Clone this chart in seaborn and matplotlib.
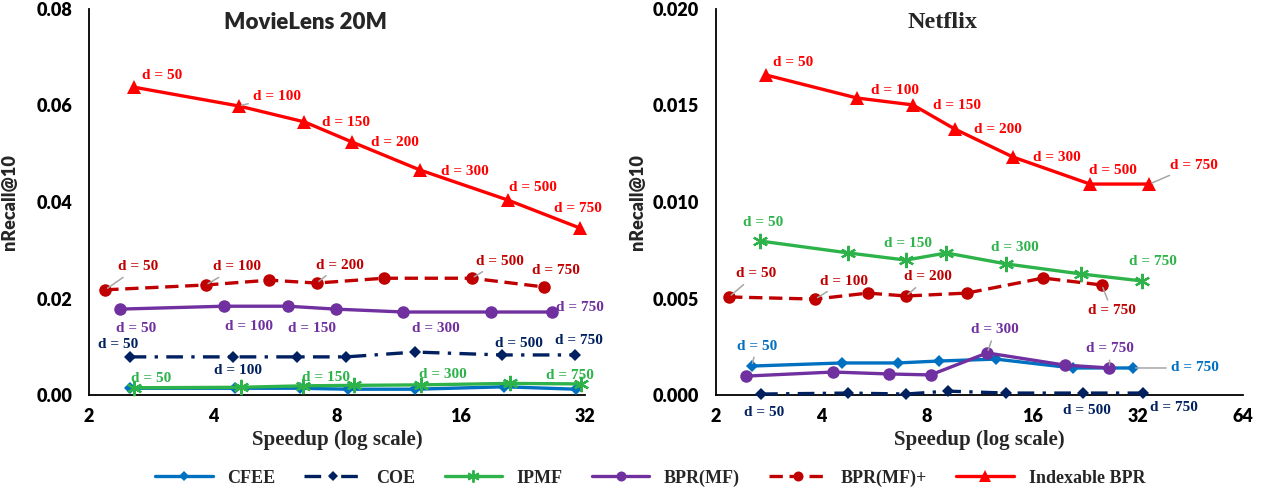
import numpy as np
import pandas as pd
import matplotlib
matplotlib.use("Agg")
import matplotlib.pyplot as plt
from matplotlib.ticker import FormatStrFormatter, FixedLocator, NullLocator
from matplotlib.lines import Line2D
import seaborn as sns

# ---- data ----
methods = ["CFEE", "COE", "IPMF", "BPR(MF)", "BPR(MF)+", "Indexable BPR"]

# MovieLens 20M: speedup (x) and nRecall@10 (y) per method
ml_speedup = {
    "CFEE":          [2.51, 4.52, 6.5, 8.5, 12.4, 20.4, 30.4],
    "COE":           [2.51, 4.48, 6.4, 8.42, 12.4, 20.1, 30.2],
    "IPMF":          [2.57, 4.67, 6.6, 8.8, 12.8, 21.0, 31.3],
    "BPR(MF)":       [2.38, 4.25, 6.08, 7.94, 11.6, 18.9, 26.6],
    "BPR(MF)+":      [2.19, 3.84, 5.48, 7.14, 10.4, 17.0, 25.4],
    "Indexable BPR": [2.57, 4.62, 6.67, 8.72, 12.75, 20.8, 31.1],
}
ml_recall = {
    "CFEE":          [0.0014, 0.0014, 0.0014, 0.0012, 0.0012, 0.0017, 0.0012],
    "COE":           [0.0079, 0.0079, 0.0079, 0.0079, 0.0089, 0.0083, 0.0083],
    "IPMF":          [0.0015, 0.0016, 0.0019, 0.0020, 0.0021, 0.0024, 0.0023],
    "BPR(MF)":       [0.0178, 0.0184, 0.0184, 0.0178, 0.0172, 0.0172, 0.0172],
    "BPR(MF)+":      [0.0218, 0.0228, 0.0238, 0.0232, 0.0242, 0.0242, 0.0224],
    "Indexable BPR": [0.0638, 0.0599, 0.0566, 0.0524, 0.0466, 0.0404, 0.0346],
}

# Netflix
nf_speedup = {
    "CFEE":          [2.53, 4.58, 6.6, 8.65, 12.6, 20.9, 31.0],
    "COE":           [2.69, 4.78, 6.97, 9.2, 13.5, 22.3, 33.2],
    "IPMF":          [2.67, 4.78, 6.97, 9.1, 13.5, 22.1, 32.9],
    "BPR(MF)":       [2.44, 4.32, 6.23, 8.2, 11.9, 19.8, 26.6],
    "BPR(MF)+":      [2.18, 3.84, 5.43, 6.98, 10.4, 17.2, 25.3],
    "Indexable BPR": [2.78, 5.05, 7.30, 9.62, 14.1, 23.4, 34.6],
}
nf_recall = {
    "CFEE":          [0.00150, 0.00166, 0.00166, 0.00176, 0.00186, 0.00140, 0.00140],
    "COE":           [0.00005, 0.00010, 0.00005, 0.00020, 0.00010, 0.00010, 0.00010],
    "IPMF":          [0.00798, 0.00736, 0.00699, 0.00736, 0.00679, 0.00627, 0.00591],
    "BPR(MF)":       [0.00098, 0.00119, 0.00109, 0.00104, 0.00218, 0.00155, 0.00140],
    "BPR(MF)+":      [0.00508, 0.00497, 0.00528, 0.00513, 0.00528, 0.00606, 0.00570],
    "Indexable BPR": [0.01658, 0.01539, 0.01503, 0.01378, 0.01233, 0.01093, 0.01093],
}
dims = [50, 100, 150, 200, 300, 500, 750]

# ---- styles ----
colors = {
    "CFEE": "#0070C0", "COE": "#002060", "IPMF": "#2DB34A",
    "BPR(MF)": "#7030A0", "BPR(MF)+": "#C00000", "Indexable BPR": "#FF0000",
}
markers = {
    "CFEE": "D", "COE": "D", "IPMF": (6, 2, 0),
    "BPR(MF)": "o", "BPR(MF)+": "o", "Indexable BPR": "^",
}
msizes = {"CFEE": 6, "COE": 6, "IPMF": 11, "BPR(MF)": 9, "BPR(MF)+": 9, "Indexable BPR": 10}
lstyles = {
    "CFEE": "-", "COE": (0, (5, 2.5, 1, 2.5)), "IPMF": "-",
    "BPR(MF)": "-", "BPR(MF)+": (0, (4, 2)), "Indexable BPR": "-",
}

# label annotations: (method, point index, dx px, dy px, leader line)
ml_notes = [
    ("Indexable BPR", 0, 28, 12, False), ("Indexable BPR", 1, 38, 9, True),
    ("Indexable BPR", 2, 42, -1, False), ("Indexable BPR", 3, 43, 0, False),
    ("Indexable BPR", 4, 44, -1, False), ("Indexable BPR", 5, 25, 13, False),
    ("Indexable BPR", 6, -2, 20, False),
    ("BPR(MF)+", 0, 33, 23, True), ("BPR(MF)+", 1, 31, 18, True),
    ("BPR(MF)+", 3, 23, 18, True), ("BPR(MF)+", 5, 28, 17, True),
    ("BPR(MF)+", 6, 12, 16, False),
    ("BPR(MF)", 0, 16, -19, False), ("BPR(MF)", 1, 25, -20, False),
    ("BPR(MF)", 2, 24, -22, False), ("BPR(MF)", 4, 32, -16, False),
    ("BPR(MF)", 6, 28, 5, False),
    ("COE", 0, -12, 12, False), ("COE", 1, 5, -14, False),
    ("COE", 5, 17, 11, False), ("COE", 6, 4, 14, False),
    ("IPMF", 0, 17, 9, False), ("IPMF", 2, 23, 8, False),
    ("IPMF", 4, 22, 10, False), ("IPMF", 6, -11, 8, False),
]
nf_notes = [
    ("Indexable BPR", 0, 27, 13, False), ("Indexable BPR", 1, 38, 7, False),
    ("Indexable BPR", 2, 44, -1, False), ("Indexable BPR", 3, 43, 0, False),
    ("Indexable BPR", 4, 44, 0, False), ("Indexable BPR", 5, 23, 14, False),
    ("Indexable BPR", 6, 44, 19, True),
    ("IPMF", 0, 3, 18, False), ("IPMF", 2, 2, 17, False),
    ("IPMF", 4, 9, 16, False), ("IPMF", 6, 11, 19, False),
    ("BPR(MF)+", 0, 27, 23, True), ("BPR(MF)+", 1, 29, 18, True),
    ("BPR(MF)+", 3, 22, 19, True), ("BPR(MF)+", 6, 10, -26, True),
    ("CFEE", 0, 5, 20, True), ("CFEE", 6, 62, 0, True),
    ("BPR(MF)", 4, 8, 23, True), ("BPR(MF)", 6, 0, 19, True),
    ("COE", 0, 3, -18, False), ("COE", 5, 4, -17, False),
    ("COE", 6, 31, -14, False),
]

sns.set_style("white")
plt.rcParams["font.family"] = ["Lato", "DejaVu Sans"]
serif = ["Liberation Serif", "DejaVu Serif"]

W, H = 1268, 494
fig = plt.figure(figsize=(W / 100, H / 100), dpi=100)
ax1 = fig.add_axes([89 / W, (H - 395) / H, (585 - 89) / W, 386 / H])
ax2 = fig.add_axes([716 / W, (H - 395) / H, (1243 - 716) / W, 386 / H])


def draw_panel(ax, speedup, recall, notes, xmax, ymax, yfmt, title, title_x, title_font, title_size):
    for m in methods:
        df = pd.DataFrame({"speedup": speedup[m], "recall": recall[m]})
        sns.lineplot(data=df, x="speedup", y="recall", ax=ax, color=colors[m],
                     marker=markers[m], markersize=msizes[m], linestyle=lstyles[m],
                     linewidth=2.4, markeredgewidth=1.6 if m == "IPMF" else 0,
                     markeredgecolor=colors[m], errorbar=None, sort=False,
                     clip_on=False, zorder=3)
    for m, i, dx, dy, leader in notes:
        kw = {}
        if leader:
            kw["arrowprops"] = dict(arrowstyle="-", color="#A6A6A6", lw=1.1,
                                    shrinkA=1, shrinkB=2)
        ax.annotate(f"d = {dims[i]}", xy=(speedup[m][i], recall[m][i]),
                    xytext=(dx, dy), textcoords="offset pixels",
                    ha="center", va="center", color=colors[m],
                    fontsize=11, fontweight="bold", family=serif,
                    annotation_clip=False, zorder=4, **kw)
    ax.set_xscale("log", base=2)
    ax.set_xlim(2, xmax)
    ax.set_ylim(0, ymax)
    xt = [2 ** k for k in range(1, int(np.log2(xmax)) + 1)]
    ax.xaxis.set_major_locator(FixedLocator(xt))
    ax.xaxis.set_minor_locator(NullLocator())
    ax.set_xticklabels([str(v) for v in xt])
    ax.set_yticks(np.linspace(0, ymax, 5))
    ax.yaxis.set_major_formatter(FormatStrFormatter(yfmt))
    ax.tick_params(axis="both", length=0, labelsize=13, colors="black")
    ax.tick_params(axis="y", pad=12)
    ax.tick_params(axis="x", pad=9)
    for lab in ax.get_xticklabels() + ax.get_yticklabels():
        lab.set_fontweight("heavy")
    for s in ["top", "right"]:
        ax.spines[s].set_visible(False)
    for s in ["left", "bottom"]:
        ax.spines[s].set_color("black")
        ax.spines[s].set_linewidth(1.3)
    ax.set_xlabel("Speedup (log scale)", fontsize=15, fontweight="bold", family=serif)
    ax.xaxis.set_label_coords(0.5, -0.09)
    ax.set_ylabel("nRecall@10", fontsize=13, fontweight="heavy")
    ax.text(title_x, 0.966, title, transform=ax.transAxes, ha="center", va="center",
            fontsize=title_size, fontweight="heavy", family=title_font)


draw_panel(ax1, ml_speedup, ml_recall, ml_notes, 32, 0.08, "%.2f",
           "MovieLens 20M", 0.4375, ["Lato", "DejaVu Sans"], 16)
ax1.yaxis.set_label_coords(-0.143, 0.5)
draw_panel(ax2, nf_speedup, nf_recall, nf_notes, 64, 0.02, "%.3f",
           "Netflix", 0.429, serif, 17.5)
ax2.yaxis.set_label_coords(-0.133, 0.5)

handles = [Line2D([0], [0], color=colors[m], marker=markers[m], markersize=msizes[m] * 0.8,
                  linestyle=lstyles[m], linewidth=2.4, markeredgecolor=colors[m],
                  markeredgewidth=1.4 if m == "IPMF" else 0)
           for m in methods]
fig.legend(handles, methods, loc="center", bbox_to_anchor=(650 / W, 1 - 478 / H),
           ncol=6, frameon=False, handlelength=3.2, columnspacing=1.6,
           prop={"family": serif, "weight": "bold", "size": 13})

fig.savefig("out.png", dpi=100)
